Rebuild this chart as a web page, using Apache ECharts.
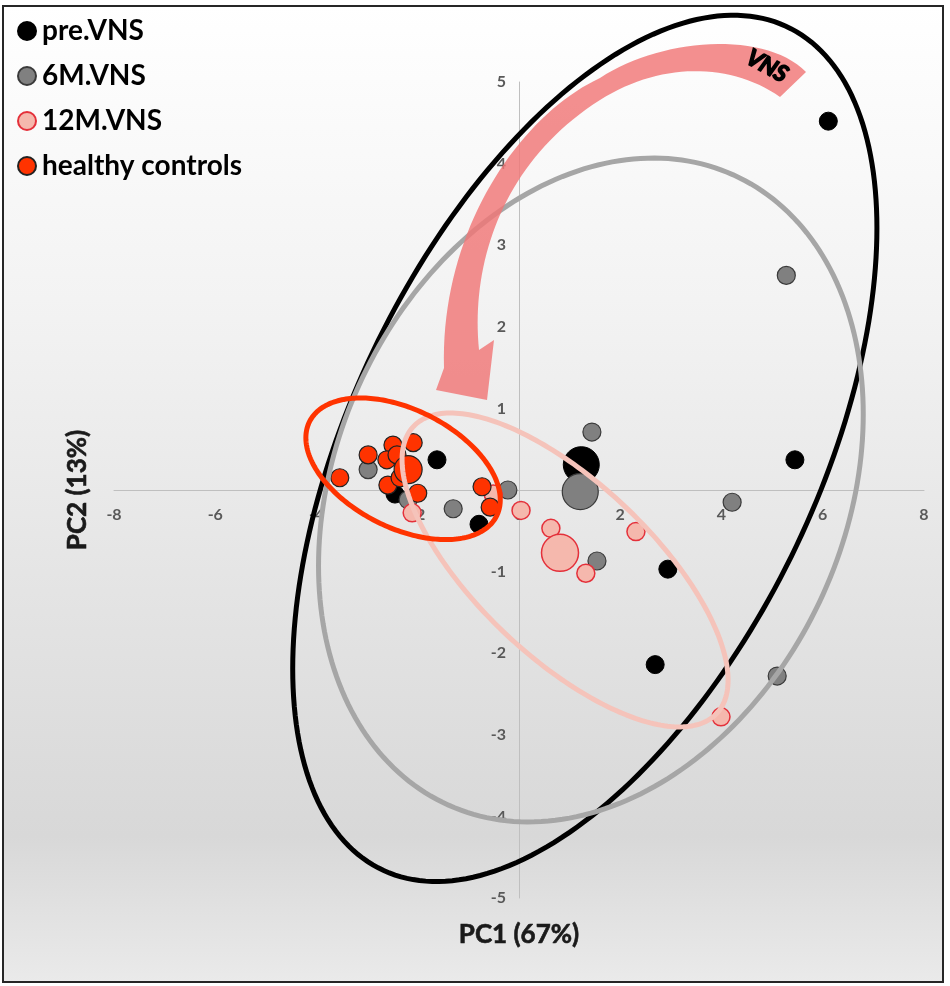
<!DOCTYPE html>
<html><head><meta charset="utf-8">
<script src="https://cdn.jsdelivr.net/npm/echarts@6/dist/echarts.min.js"></script>
<style>html,body{margin:0;padding:0;background:#fff}#c{width:950px;height:986px}</style>
</head><body><div id="c"></div>
<script>
// ---- data (PC1, PC2) ----
const preVNS = [[6.11,4.52],[5.45,0.37],[2.94,-0.97],[2.69,-2.14],[-1.62,0.37],[-0.79,-0.42],[-2.45,-0.05]];
const preVNSMean = [[1.23,0.31]];
const m6VNS = [[5.28,2.63],[5.10,-2.28],[4.21,-0.15],[1.44,0.71],[1.54,-0.87],[-0.22,0.0],[-1.30,-0.23],[-2.98,0.25],[-2.19,-0.12]];
const m6VNSMean = [[1.21,-0.02]];
const m12VNS = [[0.04,-0.25],[0.63,-0.47],[1.32,-1.02],[2.31,-0.51],[3.99,-2.78],[-2.11,-0.28],[-0.51,-0.05]];
const m12VNSMean = [[0.81,-0.77]];
const healthy = [[-3.54,0.15],[-2.98,0.43],[-2.49,0.55],[-2.09,0.58],[-2.61,0.37],[-2.41,0.43],[-2.59,0.06],[-2.00,-0.04],[-2.35,0.15],[-0.73,0.04],[-0.57,-0.21]];
const healthyMean = [[-2.19,0.25]];
// ellipses: [centerX, centerY, semi-diameter to rightmost point (dx, dy), vertical semi-chord]
const ellipsePre = [1.30, 0.51, 5.77, 2.70, 4.57];
const ellipse6M = [1.42, 0.0, 5.38, 0.93, 3.96];
const ellipse12M = [0.91, -0.98, 3.22, -1.35, 1.37];
const ellipseHealthy = [-2.29, 0.26, 1.92, -0.38, 0.78];
const legendNames = ['pre.VNS','6M.VNS','12M.VNS','healthy controls'];
const xTitle = 'PC1 (67%)';
const yTitle = 'PC2 (13%)';
const arrowLabel = 'VNS';

const FONT = 'Lato, "Open Sans", sans-serif';
const chart = echarts.init(document.getElementById('c'));

function ellipseSeries(name, params, color, z) {
  return {
    type: 'custom', name: name, coordinateSystem: 'cartesian2d', silent: true, z: z, clip: false,
    data: [params], encode: {x: 0, y: 1},
    renderItem: function (p, api) {
      const cx = api.value(0), cy = api.value(1), ux = api.value(2), uy = api.value(3), vy = api.value(4);
      const pts = [];
      for (let i = 0; i < 240; i++) {
        const t = i / 240 * Math.PI * 2;
        pts.push(api.coord([cx + ux * Math.cos(t), cy + uy * Math.cos(t) + vy * Math.sin(t)]));
      }
      return {type: 'polygon', shape: {points: pts}, style: {fill: 'none', stroke: color, lineWidth: 5}};
    }
  };
}

// decorative curved arrow outline (pixel space), sampled from cubic Bezier segments
function bez(p0, p1, p2, p3, n) {
  const out = [];
  for (let i = 0; i <= n; i++) {
    const t = i / n, u = 1 - t;
    out.push([u*u*u*p0[0] + 3*u*u*t*p1[0] + 3*u*t*t*p2[0] + t*t*t*p3[0],
              u*u*u*p0[1] + 3*u*u*t*p1[1] + 3*u*t*t*p2[1] + t*t*t*p3[1]]);
  }
  return out;
}
const arrowPts = [].concat(
  bez([806,72],[765,30],[660,38],[600,78], 30),
  bez([600,78],[520,115],[440,230],[444,368], 40),
  [[436,390],[487,400],[494,340],[479,350]],
  bez([479,350],[470,260],[505,160],[600,100], 40),
  bez([600,100],[660,62],[730,62],[780,97], 30)
);

const styles = {
  pre: {color: '#000000', borderColor: '#000000', borderWidth: 1, opacity: 1},
  m6: {color: '#808080', borderColor: '#3a3a3a', borderWidth: 1.2, opacity: 1},
  m12: {color: '#f5b8ad', borderColor: '#e4303a', borderWidth: 1.5, opacity: 1},
  hc: {color: '#ff3300', borderColor: '#222222', borderWidth: 1.2, opacity: 1}
};

const option = {
  backgroundColor: '#ffffff',
  animation: false,
  grid: {left: 114, right: 26, top: 82, bottom: 88, containLabel: false},
  xAxis: {
    type: 'value', min: -8, max: 8, interval: 2, position: 'bottom', offset: -408,
    axisLine: {onZero: false, lineStyle: {color: '#bfbfbf', width: 1}},
    axisTick: {show: false}, splitLine: {show: false},
    axisLabel: {color: '#595959', fontSize: 16, fontWeight: 'bold', fontFamily: FONT, margin: 17, hideOverlap: false}
  },
  yAxis: {
    type: 'value', min: -5, max: 5, interval: 1, position: 'left', offset: -405,
    axisLine: {onZero: false, lineStyle: {color: '#bfbfbf', width: 1}},
    axisTick: {show: false}, splitLine: {show: false},
    axisLabel: {color: '#595959', fontSize: 16, fontWeight: 'bold', fontFamily: FONT, margin: 13, hideOverlap: false,
      formatter: function (v) { return v === 0 ? '' : String(v); }}
  },
  legend: {
    data: legendNames, orient: 'vertical', left: 12, top: 11, itemGap: 15,
    itemWidth: 18, itemHeight: 18, icon: 'circle',
    textStyle: {fontSize: 28, fontWeight: 'bold', fontFamily: FONT, color: '#000', lineHeight: 30, padding: [0, 0, 0, 1]}
  },
  series: [
    {type: 'scatter', name: 'pre.VNS', data: preVNS, symbolSize: 18, itemStyle: styles.pre, z: 3},
    {type: 'scatter', name: '6M.VNS', data: m6VNS, symbolSize: 18, itemStyle: styles.m6, z: 3},
    {type: 'scatter', name: '12M.VNS', data: m12VNS, symbolSize: 18, itemStyle: styles.m12, z: 3},
    {type: 'scatter', name: 'healthy controls', data: healthy, symbolSize: 18, itemStyle: styles.hc, z: 4},
    {type: 'scatter', name: 'pre.VNS mean', data: preVNSMean, symbolSize: 36, itemStyle: styles.pre, z: 3},
    {type: 'scatter', name: '6M.VNS mean', data: m6VNSMean, symbolSize: 36, itemStyle: styles.m6, z: 3},
    {type: 'scatter', name: '12M.VNS mean', data: m12VNSMean, symbolSize: 37, itemStyle: styles.m12, z: 3},
    {type: 'scatter', name: 'healthy controls mean', data: healthyMean, symbolSize: 28, itemStyle: styles.hc, z: 4},
    ellipseSeries('ellipse pre', ellipsePre, '#000000', 5),
    ellipseSeries('ellipse 6M', ellipse6M, '#a6a6a6', 5),
    ellipseSeries('ellipse 12M', ellipse12M, '#f5c3ba', 5),
    ellipseSeries('ellipse hc', ellipseHealthy, '#ff3300', 5)
  ],
  graphic: [
    {type: 'rect', z: -10, silent: true,
      shape: {x: 3, y: 6, width: 940, height: 976},
      style: {
        fill: new echarts.graphic.LinearGradient(0, 0, 0, 1, [
          {offset: 0, color: '#ffffff'}, {offset: 0.3, color: '#f3f3f3'},
          {offset: 0.6, color: '#e4e4e4'}, {offset: 0.85, color: '#d8d8d8'}, {offset: 1, color: '#eaeaea'}
        ]),
        stroke: '#262626', lineWidth: 2
      }},
    {type: 'polygon', z: 100, silent: true,
      shape: {points: arrowPts},
      style: {fill: 'rgba(240,118,118,0.82)'}},
    {type: 'text', z: 101, silent: true, x: 767, y: 66, rotation: -0.5,
      style: {text: arrowLabel, font: 'italic bold 23px ' + FONT, fill: '#000', stroke: '#000', lineWidth: 1.6, textAlign: 'center', textVerticalAlign: 'middle'}},
    {type: 'text', z: 101, silent: true, x: 519, y: 935,
      style: {text: xTitle, font: 'bold 26px ' + FONT, fill: '#1a1a1a', stroke: '#1a1a1a', lineWidth: 0.6, textAlign: 'center', textVerticalAlign: 'middle'}},
    {type: 'text', z: 101, silent: true, x: 78, y: 490, rotation: Math.PI / 2,
      style: {text: yTitle, font: 'bold 26px ' + FONT, fill: '#1a1a1a', stroke: '#1a1a1a', lineWidth: 0.6, textAlign: 'center', textVerticalAlign: 'middle'}}
  ]
};
chart.setOption(option);
</script></body></html>
